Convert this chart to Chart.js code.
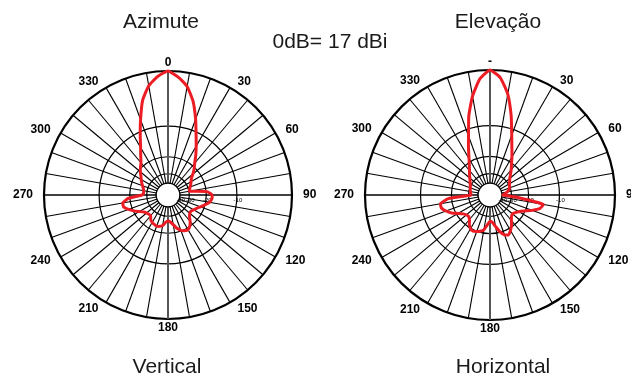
<!DOCTYPE html>
<html>
<head>
<meta charset="utf-8">
<script src="https://cdn.jsdelivr.net/npm/chart.js@4.4.1/dist/chart.umd.min.js"></script>
<style>
html,body{margin:0;padding:0;background:#fff;overflow:hidden;width:631px;height:376px;}
#wrap{position:relative;width:631px;height:376px;overflow:hidden;}
canvas{position:absolute;top:0;}
.t{position:absolute;font-family:"Liberation Sans",Arial,sans-serif;font-size:21px;line-height:21px;color:#1a1a1a;white-space:nowrap;transform:translateX(-50%);}
</style>
</head>
<body>
<div id="wrap">
  <canvas id="c1" width="330" height="376" style="left:0;width:330px;height:376px"></canvas>
  <canvas id="c2" width="300" height="376" style="left:331px;width:300px;height:376px"></canvas>
  <div class="t" style="left:161px;top:10px">Azimute</div>
  <div class="t" style="left:330px;top:30px">0dB= 17 dBi</div>
  <div class="t" style="left:498px;top:10px">Elevação</div>
  <div class="t" style="left:167px;top:355px">Vertical</div>
  <div class="t" style="left:503px;top:355px">Horizontal</div>
</div>
<script>
// ---- data (angles in degrees, clockwise from top; gains in dB relative to 0 dB = 17 dBi) ----
const ANGLES = [0,5,10,15,20,25,30,35,40,45,50,55,60,65,70,75,80,85,90,95,100,105,110,115,
  120,125,130,135,140,145,150,155,160,165,170,175,180,185,190,195,200,205,210,215,220,225,230,235,
  240,245,250,255,260,265,270,275,280,285,290,295,300,305,310,315,320,325,330,335,340,345,350,355];

const AZIMUTE_DB = [0,-0.8,-2.0,-4.2,-7.3,-10.6,-13.4,-16.0,-18.6,-20.6,-22.8,-25.0,
  -26.2,-27.2,-28.3,-29.2,-29.5,-19.7,-17.6,-17.6,-18.4,-20.1,-21.8,-23.3,
  -24.4,-25.3,-25.0,-23.9,-21.8,-20.1,-19.2,-19.5,-20.3,-21.8,-24.1,-25.9,
  -26.6,-25.6,-23.6,-22.8,-22.5,-22.8,-23.3,-24.1,-25.9,-25.9,-25.3,-24.4,
  -22.5,-20.3,-18.4,-16.9,-16.9,-19.2,-26.6,-27.6,-27.4,-26.9,-25.9,-24.7,
  -23.6,-22.5,-21.0,-19.7,-18.4,-16.3,-13.9,-10.8,-7.4,-4.0,-1.9,-0.7];

const ELEVACAO_DB = [0,-1.0,-3.4,-7.2,-11.5,-15.0,-17.8,-20.5,-22.7,-24.9,-26.8,-28.1,
  -29.2,-30.0,-30.6,-31.7,-33.5,-36.1,-38.6,-25.5,-14.3,-15.0,-17.4,-20.3,
  -22.5,-23.8,-24.6,-24.1,-22.5,-20.5,-19.0,-17.8,-18.4,-20.3,-23.2,-25.8,
  -26.5,-24.3,-21.5,-20.5,-19.9,-19.4,-19.8,-21.2,-23.2,-24.1,-23.8,-22.7,
  -20.8,-18.4,-16.7,-15.5,-15.5,-18.6,-32.1,-31.7,-31.2,-30.8,-30.4,-29.8,
  -28.9,-27.8,-26.5,-24.9,-23.2,-21.2,-18.6,-15.3,-11.7,-7.2,-3.7,-1.2];

const AZ_ANGLE_LABELS = {0:'0',30:'30',60:'60',90:'90',120:'120',150:'150',180:'180',210:'210',240:'240',270:'270',300:'300',330:'330'};
const EL_ANGLE_LABELS = {0:'-',30:'30',60:'60',90:'90',120:'120',150:'150',180:'180',210:'210',240:'240',270:'270',300:'300',330:'330'};

const RING_DB = [-40,-30,-20,-10,0];
const TICK_LABEL_DB = [-40,-30,-20,-10];

// ---- radial mapping: the chart's dB rings are spaced logarithmically ----
const DB_BASE = 1.8;
function dbToR(db){ return Math.pow(DB_BASE, db/10); }

const decorPlugin = {
  id: 'polarDecor',
  beforeDatasetsDraw(chart){
    const s = chart.scales.r, ctx = chart.ctx;
    const r0 = s.getDistanceFromCenterForValue(dbToR(RING_DB[0]));
    ctx.save();
    ctx.beginPath();
    ctx.arc(s.xCenter, s.yCenter, r0, 0, Math.PI*2);
    ctx.fillStyle = '#fff';
    ctx.fill();
    ctx.lineWidth = 1.2;
    ctx.strokeStyle = '#000';
    ctx.stroke();
    ctx.font = '6px "Liberation Sans", Arial, sans-serif';
    ctx.fillStyle = '#000';
    ctx.textAlign = 'center';
    ctx.textBaseline = 'middle';
    TICK_LABEL_DB.forEach(d => {
      const rr = s.getDistanceFromCenterForValue(dbToR(d));
      ctx.fillText(String(d), s.xCenter + rr + 1, s.yCenter + 5);
    });
    ctx.restore();
  },
  afterDraw(chart){
    const s = chart.scales.r, ctx = chart.ctx;
    const labels = chart.data.labels, n = labels.length;
    ctx.save();
    ctx.font = 'bold 12px "Liberation Sans", Arial, sans-serif';
    ctx.fillStyle = '#000';
    ctx.textBaseline = 'middle';
    labels.forEach((lab, i) => {
      if (!lab) return;
      const deg = Math.round(i*360/n);
      const vertical = (deg === 0 || deg === 180);
      const p = s.getPointPosition(i, s.drawingArea + (vertical ? 8.5 : 7));
      let x = p.x, align = 'center';
      if (deg > 0 && deg < 180) { align = 'left'; x += 4; }
      else if (deg > 180) { align = 'right'; x -= 4; }
      ctx.textAlign = align;
      ctx.fillText(lab, x, p.y);
    });
    ctx.restore();
  }
};

function makeChart(id, dbValues, labelMap, padding){
  const labels = ANGLES.map(a => labelMap[a] || '');
  return new Chart(document.getElementById(id), {
    type: 'radar',
    data: {
      labels: labels,
      datasets: [{
        data: dbValues.map(dbToR),
        borderColor: '#ec1c24',
        borderWidth: 3,
        backgroundColor: 'rgba(0,0,0,0)',
        fill: false,
        pointRadius: 0,
        pointHoverRadius: 0,
        tension: 0.15
      }]
    },
    options: {
      responsive: false,
      animation: false,
      events: [],
      layout: { padding: padding },
      plugins: { legend: { display: false }, tooltip: { enabled: false } },
      scales: {
        r: {
          min: 0,
          max: 1,
          afterBuildTicks: sc => { sc.ticks = [0].concat(RING_DB.map(dbToR)).map(v => ({ value: v })); },
          ticks: { display: false },
          pointLabels: { display: false },
          grid: {
            circular: true,
            color: '#000',
            lineWidth: c => (c.index === RING_DB.length ? 2.2 : 1.2)
          },
          angleLines: {
            color: c => {
              const deg = ANGLES[c.index];
              if (deg % 10 !== 0) return 'rgba(0,0,0,0)';
              if (deg === 0 || deg === 180) return '#555';
              return '#000';
            },
            lineWidth: c => {
              const deg = ANGLES[c.index];
              if (deg % 10 !== 0) return 0;
              if (deg === 0 || deg === 180) return 2;
              if (deg === 90 || deg === 270) return 1.4;
              return 1.1;
            }
          }
        }
      }
    },
    plugins: [decorPlugin]
  });
}

makeChart('c1', AZIMUTE_DB, AZ_ANGLE_LABELS, { left: 44, right: 38, top: 71, bottom: 57 });
makeChart('c2', ELEVACAO_DB, EL_ANGLE_LABELS, { left: 34, right: 16, top: 70, bottom: 56 });
</script>
</body>
</html>
